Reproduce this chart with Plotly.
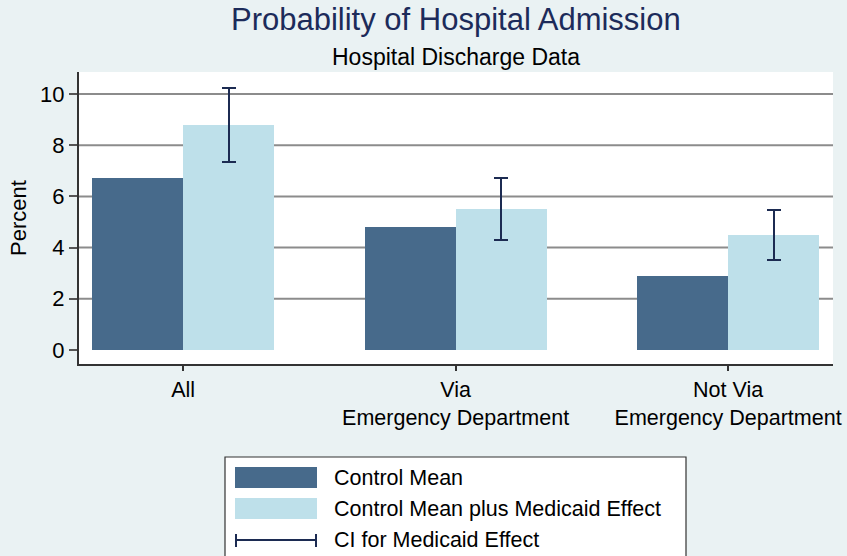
import plotly.graph_objects as go

categories = ["All", "Via<br>Emergency Department", "Not Via<br>Emergency Department"]
control_mean = [6.7, 4.8, 2.9]
control_plus_effect = [8.8, 5.5, 4.5]
ci_low = [7.35, 4.3, 3.5]
ci_high = [10.25, 6.72, 5.48]
y_ticks = [0, 2, 4, 6, 8, 10]
legend_labels = ["Control Mean", "Control Mean plus Medicaid Effect", "CI for Medicaid Effect"]

W, H = 847, 556
ML, MR, MT, MB = 79, 14, 72, 192
PW, PH = W - ML - MR, H - MT - MB

def px(x):
    return (x - ML) / PW

def py(y):
    return (H - MB - y) / PH

DARK = "#476A8B"
LIGHT = "#BEE0EA"
NAVY = "#1C2B52"
FONT = "Liberation Sans, Arial, sans-serif"

xs = list(range(len(categories)))
bw = 0.334

fig = go.Figure()
fig.add_trace(go.Bar(
    x=xs, y=control_mean, width=[bw] * 3, offset=[-bw] * 3,
    marker=dict(color=DARK, line=dict(width=0)), name=legend_labels[0], showlegend=False,
))
fig.add_trace(go.Bar(
    x=xs, y=control_plus_effect, width=[bw] * 3, offset=[0] * 3,
    marker=dict(color=LIGHT, line=dict(width=0)), name=legend_labels[1], showlegend=False,
    error_y=dict(type="data", symmetric=False,
                 array=[h - v for h, v in zip(ci_high, control_plus_effect)],
                 arrayminus=[v - l for v, l in zip(control_plus_effect, ci_low)],
                 color=NAVY, thickness=2, width=7),
))

shapes = []
for t in y_ticks[1:]:
    shapes.append(dict(type="line", xref="paper", yref="y", x0=0, x1=1, y0=t, y1=t,
                       line=dict(color="#8C8C8C", width=2), layer="below"))

# legend box
shapes.append(dict(type="rect", xref="paper", yref="paper", x0=px(225), x1=px(686),
                   y0=py(575), y1=py(457), fillcolor="white", line=dict(color="#333", width=1.2)))
shapes.append(dict(type="rect", xref="paper", yref="paper", x0=px(235), x1=px(317),
                   y0=py(488), y1=py(467), fillcolor=DARK, line=dict(width=0)))
shapes.append(dict(type="rect", xref="paper", yref="paper", x0=px(235), x1=px(317),
                   y0=py(519), y1=py(498), fillcolor=LIGHT, line=dict(width=0)))
shapes.append(dict(type="line", xref="paper", yref="paper", x0=px(235), x1=px(317),
                   y0=py(540), y1=py(540), line=dict(color=NAVY, width=2)))
for xc in (236, 316):
    shapes.append(dict(type="line", xref="paper", yref="paper", x0=px(xc), x1=px(xc),
                       y0=py(534), y1=py(547), line=dict(color=NAVY, width=2)))

annotations = [
    dict(text="Probability of Hospital Admission", x=px(456), y=py(20), xref="paper", yref="paper",
         showarrow=False, font=dict(size=31, color="#1C2B5A", family=FONT), xanchor="center", yanchor="middle"),
    dict(text="Hospital Discharge Data", x=px(456), y=py(57), xref="paper", yref="paper",
         showarrow=False, font=dict(size=23, color="black", family=FONT), xanchor="center", yanchor="middle"),
]
for lab, yy in zip(legend_labels, (478, 509, 540)):
    annotations.append(dict(text=lab, x=px(332), y=py(yy), xref="paper", yref="paper", showarrow=False,
                            font=dict(size=21.5, color="black", family=FONT), xanchor="left", yanchor="middle"))

fig.update_layout(
    width=W, height=H, autosize=False,
    margin=dict(l=ML, r=MR, t=MT, b=MB, pad=0, autoexpand=False),
    paper_bgcolor="#EAF2F3", plot_bgcolor="white",
    barmode="overlay", bargap=0,
    font=dict(family=FONT, size=22, color="black"),
    shapes=shapes, annotations=annotations, showlegend=False,
    xaxis=dict(range=[-0.382, 2.385], tickvals=xs, ticktext=categories, showgrid=False, zeroline=False,
               showline=True, linecolor="#333", linewidth=2, ticks="outside", ticklen=5,
               tickcolor="#333", tickwidth=1.5, tickfont=dict(size=21.5), automargin=False),
    yaxis=dict(range=[-0.55, 10.86], tickvals=y_ticks, showgrid=False, zeroline=False,
               showline=True, linecolor="#333", linewidth=2, ticks="outside", ticklen=8,
               tickcolor="#555", tickwidth=1.5, tickfont=dict(size=22), automargin=False,
               title=dict(text="Percent", font=dict(size=22), standoff=7)),
)

fig.write_html("out.html", config={"displayModeBar": False},
               post_script="document.body.style.margin='0';document.body.style.overflow='hidden';")
